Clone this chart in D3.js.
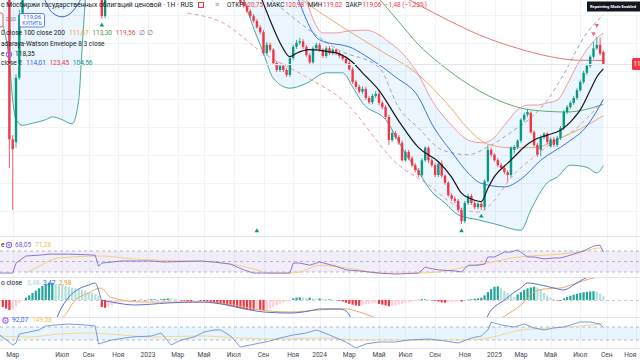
<!DOCTYPE html>
<html><head><meta charset="utf-8">
<script src="https://cdn.jsdelivr.net/npm/d3@7/dist/d3.min.js"></script>
<style>html,body{margin:0;padding:0;background:#fff;overflow:hidden}svg{display:block;font-family:Roboto,"Noto Sans",sans-serif}</style>
</head><body>
<svg id="chart" width="640" height="360"></svg>
<script>
// ---------- DATA ----------
const tickBars=[-41,-26,-18,-9,0,9,17,26,35,44,52,61,70,78,87,96,105,113,122,131,139,148];
const tickLabels=["Мар","Июл","Сен","Ноя","2023","Мар","Май","Июл","Сен","Ноя","2024","Мар","Май","Июл","Сен","Ноя","2025","Мар","Май","Июл","Сен","Ноя"];
const gridPrices=[98,102,106,110,114,118,122,126];

const candleBars=[-42,-41,-40,-39,-38,-14,-13].concat(d3.range(28,139));
const openP=[131.1,108.3,107.9,117.1,126.1,129.5,125.9,
129.1,127.9,127.3,126.6,125.9,125.2,124.3,123.6,120.6,121.8,
121.1,119.2,118.2,118.8,118.2,117.5,119.9,121.5,122.1,122.3,
121.5,120.3,119.3,121.3,121.8,121.1,120.2,121.3,120.6,121.1,
120.6,120.2,119.8,119.2,118.3,116.5,115.8,115.1,115.5,114.2,
113.6,114.5,114.8,113.5,112.9,111.5,108.2,109.2,108.6,107.8,
105.3,106.5,105.6,104.6,103.9,103.2,105.3,107.1,105.3,104.6,
103.2,104.8,103.1,102.1,100.3,99.8,99.5,98.2,96.6,99.2,
100.2,99.2,98.6,99.1,98.6,102.3,106.8,106.1,105.3,104.6,
104.2,103.6,103.2,106.8,107.2,108.1,111.1,111.8,112.1,109.3,
107.5,106.8,108.6,109.1,107.3,108.3,107.5,108.5,109.9,112.2,
112.9,113.5,114.2,115.3,116.5,117.8,118.8,120.1,121.3,121.8,
120.75];
const highP=[131.8,108.9,117.6,126.8,131.0,130.0,130.0,
129.3,128.2,127.6,126.9,126.2,125.5,124.6,123.9,122.2,122.1,
121.3,119.5,119.1,119.1,118.5,120.2,121.8,122.5,122.8,122.6,
121.8,120.6,121.6,122.1,122.1,121.3,121.6,121.6,121.3,121.3,
120.9,120.5,120.1,119.5,118.6,116.8,116.1,115.9,115.8,114.5,
114.8,115.2,115.1,113.8,113.2,111.8,109.6,109.5,108.9,108.1,
106.8,106.8,105.9,104.9,104.2,105.6,107.3,107.3,105.6,104.9,
105.1,105.3,103.3,102.3,100.6,100.1,99.8,98.5,99.5,100.5,
100.5,99.5,99.3,99.3,102.6,107.5,107.1,106.3,105.6,104.9,
104.5,103.9,107.3,107.5,108.3,111.3,112.1,112.6,112.3,109.6,
107.8,108.9,109.3,109.3,108.6,108.6,108.8,110.2,112.5,113.2,
113.8,114.5,115.6,116.8,118.1,119.1,120.3,122.2,122.9,122.8,
120.98];
const lowP=[104.2,98.2,107.1,116.8,125.8,125.5,125.6,
127.6,127.1,126.3,125.6,124.9,124.1,123.3,120.3,120.3,120.8,
118.9,117.9,117.9,117.9,117.2,117.2,119.6,121.2,121.8,121.2,
120.1,118.9,119.1,121.1,120.8,119.9,119.9,120.3,120.3,120.3,
119.9,119.5,118.9,118.1,116.2,115.5,114.8,114.8,113.9,113.3,
113.3,114.2,113.2,112.6,111.2,107.5,107.9,108.3,107.5,105.1,
105.1,105.3,104.3,103.6,102.9,102.9,105.1,104.9,104.3,102.9,
102.9,102.8,101.8,100.1,99.5,99.2,97.9,96.2,96.3,98.9,
98.9,98.3,98.3,98.2,98.2,102.1,105.8,105.1,104.3,103.9,
103.3,102.3,102.9,106.3,106.9,107.8,110.8,111.5,109.1,107.2,
105.8,105.9,108.3,107.6,107.1,107.2,107.2,108.2,109.6,111.9,
112.6,113.2,113.9,115.1,116.2,117.5,118.5,119.8,121.1,120.3,
119.02];
const closeP=[108.3,106.9,117.1,126.1,130.2,125.9,129.3,
127.9,127.3,126.6,125.9,125.2,124.3,123.6,120.6,121.8,121.1,
119.2,118.2,118.8,118.2,117.5,119.9,121.5,122.1,122.3,121.5,
120.3,119.3,121.3,121.8,121.1,120.2,121.3,120.6,121.1,120.6,
120.2,119.8,119.2,118.3,116.5,115.8,115.1,115.5,114.2,113.6,
114.5,114.8,113.5,112.9,111.5,108.2,109.2,108.6,107.8,105.3,
106.5,105.6,104.6,103.9,103.2,105.3,107.1,105.3,104.6,103.2,
104.8,103.1,102.1,100.3,99.8,99.5,98.2,96.6,99.2,100.2,
99.2,98.6,99.1,98.6,102.3,106.8,106.1,105.3,104.6,104.2,
103.6,103.2,107.1,107.2,108.1,111.1,111.8,112.2,109.3,107.5,
106.1,108.6,109.1,107.9,108.3,107.5,108.5,109.9,112.2,112.9,
113.5,114.2,115.3,116.5,117.8,118.8,120.1,121.3,121.8,120.54,
119.06];

// Bollinger bands (bar, price)
const bbLowerA=[[-44,124.6],[-42,119.3],[-41,113.9],[-40,111.1],[-38,110.3],[-35,110.6],[-31,111.1],[-29,111.5],[-26,111.1],[-23,110.5],[-21,113.9],[-20,121.1],[-19,128.2],[-18,134]];
const bbLowerB=[[28,130],[31,125.5],[35,120.6],[38,117],[43,115.6],[48,116.3],[54,117.8],[59,117.8],[62,115.8],[65,113.5],[72,111.1],[78,106.3],[82,103.6],[86,100.8],[90,99.2],[94,97.5],[100,96.8],[106,96.1],[113,95.3],[116,98.2],[121,102.1],[124,102.9],[128,104.6],[133,104.3],[136,103.5],[138,104.56]];
const bbUpper=[[47,130],[50,125.5],[53,123.5],[57,123.5],[61,123.8],[66,123.9],[69,123.5],[73,122.2],[76,121.1],[82,117.5],[86,113.9],[92,110.3],[97,108.2],[101,107.8],[104,108.2],[108,110.3],[112,112.5],[115,113.2],[118,113.2],[121,113.5],[124,113.9],[127,116.1],[130,118.9],[133,121.1],[136,122.8],[138,123.45]];
const bbBasisA=[[-32,129],[-29,126.4],[-26,125.8],[-23,126.5],[-20,128.6]];
const bbBasisB=[[45,129],[52,122.5],[62,121.3],[67,119.9],[75,117.2],[82,114.3],[86,110.5],[92,106.5],[97,103.5],[101,102],[108,101.5],[113,102.6],[119,105.3],[127,107.8],[133,110.2],[138,114.01]];
// Moving averages
const maFast=[[46,128.4],[58,124.6],[70,121.1],[82,117.5],[91,113.2],[97,109.8],[103,107.6],[110,107.1],[117,107.1],[125,108.5],[131,109.8],[138,111.67]];
const maMid=[[70,128.4],[76,125.1],[82,121.8],[88,119.3],[95,116.8],[106,113.9],[116,112.5],[127,112.2],[138,113.30]];
const maSlow=[[74,129.5],[82,127.5],[91,125.3],[102,122.9],[112,121.3],[122,120.1],[130,119.6],[138,119.56]];
const fastLine=[[34,128.9],[37,125.3],[40,122.1],[43,120.1],[45,120.6],[49,121.1],[55,120.8],[58,120.5],[62,119.3],[65,117.8],[70,115.3],[76,110.9],[82,107.1],[88,105.1],[92,102.9],[95,100.6],[99,99.6],[101,99.4],[103,101.3],[105,103.0],[109,104.9],[111,105.8],[114,107.2],[117,108.2],[121,108.9],[125,109.6],[129,111.3],[131,112.5],[134,115.3],[136,117.2],[138,118.35]];
// Nadaraya-Watson envelope
const nwUpper=[[37,128.4],[45,125.3],[58,121.0],[70,118.6],[76,112.8],[82,109.9],[89,106.8],[97,106.1],[103,107.2],[110,109.3],[117,111.8],[121,113.9],[125,116.8],[133,123.5],[138,126.1]];
const nwLower=[[12,126.3],[22,125.1],[35,120.6],[48,117.2],[59,113.9],[76,104.6],[85,101.8],[93,98.9],[100,97.9],[105,99.6],[110,102.8],[117,105.8],[124,108.2],[127,108.9],[134,111.8],[138,113.9]];
const upMarkBars=[-14,33,95,101], upMarkPrices=[124.6,95.2,95.2,97.3];
const dnMarkBars=[135,136], dnMarkPrices=[123.4,124.6];

// RSI
const rsiLine=[[-45,28],[-41,28],[-40,47],[-37,60.5],[-33,62],[-30,64],[-24,64],[-19,63],[-16,62],[-15,41],[-14,47],[-8,51],[1,51],[5,49],[16,51],[20,49],[25,45],[29,34],[32,28],[43,28],[44,47],[46,47],[49,43],[52,49],[57,41],[60,34],[64,32],[70,28],[75,26],[82,28],[84,39.5],[85,37.6],[88,34],[93,32],[95,30],[97,43],[100,43],[102,45],[103,58.6],[105,58.6],[108,68],[110,68],[112,72],[115,58.6],[117,58.6],[120,55],[123,56.7],[125,56.7],[128,62],[132,70],[135,79.5],[137,81],[138,68.05]];
const rsiSignal=[[-37,28],[-33,41],[-27,56.7],[-14,60.5],[-5,55],[1,53],[20,49],[31,37.6],[37,28],[43,28],[46,30],[52,43],[58,39.5],[64,34],[70,28],[82,28],[92,34],[97,41],[103,47],[110,56.7],[116,60.5],[125,64],[132,70],[137,75.7],[138,71.28]];
// MACD
const macdHistStart=-44;
const macdHist=[-0.9,-1.1,-1.3,-1.2,-0.8,-0.4,-0.1,
0.3,0.6,0.9,1.2,1.5,1.8,2.0,2.2,2.2,
2.1,2.0,1.9,1.8,1.7,1.6,1.5,1.4,1.3,1.2,1.0,0.9,0.7,0.5,
-0.9,-1.0,-0.9,-0.7,-0.5,-0.4,-0.3,-0.2,-0.15,-0.1,-0.1,-0.05,
0.05,-0.05,0.05,0.1,0.1,0.05,
0.1,0.15,0.2,0.15,0.1,0.05,
-0.05,-0.1,-0.15,-0.2,-0.15,-0.1,
-0.1,-0.15,-0.2,-0.25,
-0.3,-0.4,-0.5,-0.6,
-0.7,-0.8,-0.9,-1.0,-1.1,
-1.2,-1.25,-1.3,-1.3,-1.25,-1.3,-1.35,-1.3,
-1.1,-0.9,-0.7,-0.5,-0.35,-0.2,-0.1,
0.2,0.3,0.35,0.3,0.25,0.3,0.2,
0.15,0.2,0.15,0.1,0.1,0.05,0.02,
-0.1,-0.2,-0.35,-0.5,-0.6,-0.7,-0.75,
-0.6,-0.5,-0.45,-0.4,-0.35,
-0.5,-0.6,-0.7,-0.8,-0.75,-0.7,
-0.6,-0.5,-0.4,-0.3,-0.2,-0.1,
0.05,0.1,0.1,0.05,-0.05,
-0.1,-0.2,-0.3,-0.35,-0.3,-0.25,-0.2,-0.15,-0.2,-0.1,
0.05,0.1,0.15,0.2,
0.3,0.6,1.0,1.4,1.7,1.75,
1.5,1.2,0.9,0.6,0.4,
0.7,1.0,1.3,1.5,1.6,1.7,1.6,
1.3,0.9,0.6,0.3,0.1,
-0.05,-0.1,
0.2,0.4,0.55,0.7,0.8,0.9,1.0,1.05,1.1,1.12,1.05,
0.8,0.48];
const macdLine=[[-40,-5],[-32,-5.5],[-29,-3.85],[-27,-1.67],[-24,0.38],[-21,1.41],[-18,1.92],[-16,2.18],[-15,1.28],[-14,0],[-11,-0.26],[-4,-0.64],[6,-0.38],[16,-0.26],[24,-0.64],[31,-1.28],[35,-1.54],[43,-1.67],[49,-1.4],[52,-1.15],[58,-1.15],[60,-1.4],[62,-2.6],[66,-4],[100,-4],[104,-1.28],[108,0],[111,1.0],[113,1.54],[115,2.18],[119,1.92],[123,1.54],[126,1.28],[129,1.92],[132,2.7],[135,3.2],[138,3.47]];
const macdSignal=[[-40,-4],[-26,-2.3],[-22,0],[-18,0.9],[-14.5,1.54],[-13,1.15],[-11.5,0.38],[-2,-0.26],[16,-0.26],[26,-0.64],[34,-1.28],[43,-1.54],[52,-1.28],[60,-1.15],[64,-1.54],[69,-2.3],[75,-3.5],[100,-3.5],[106,-2.56],[110,-1.54],[113,-0.64],[117,1.03],[120,1.41],[125,1.54],[129,2.05],[135,2.82],[138,2.98]];
// CCI-like pane
const cciLine=[[-45,-23],[-42,-131],[-41,-177],[-40,-146],[-39,-8],[-36,23],[-33,54],[-31,115],[-28,131],[-24,146],[-19,131],[-16,115],[-15,-161],[-11,-100],[-5,-54],[1,-38],[4,8],[7,-177],[10,-100],[14,-54],[17,23],[20,54],[22,54],[25,-38],[28,-208],[31,-177],[34,-146],[37,-115],[40,-69],[44,-23],[48,8],[51,54],[52,38],[55,-23],[60,-131],[63,-223],[66,-161],[70,-131],[75,-131],[79,-100],[85,-85],[90,-115],[94,-146],[98,-69],[101,-38],[103,54],[104,177],[107,131],[111,100],[114,146],[117,85],[120,54],[123,85],[126,100],[131,177],[134,177],[137,146],[138,92.07]];
const cciSignal=[[-45,-38],[-36,-54],[-27,-8],[-18,8],[-8,-23],[1,-54],[16,-38],[28,-69],[40,-85],[52,-69],[64,-100],[76,-100],[91,-100],[101,-85],[107,-23],[113,54],[122,85],[131,115],[138,149.58]];

// ---------- DRAW ----------
const W=640,H=360;
const svg=d3.select("#chart");
const defs=svg.append("defs");
const panes={main:[0,236],rsi:[237,277],macd:[278,317],cci:[318,348]};
Object.entries(panes).forEach(([k,[a,b]])=>defs.append("clipPath").attr("id","clip-"+k).append("rect").attr("x",0).attr("y",a).attr("width",W).attr("height",b-a));

const x=d3.scaleLinear().domain([0,105]).range([148,494.5]);
const y=d3.scaleLinear().domain([94.6,128.2]).range([235.2,0]);
const rsiY=d3.scaleLinear().domain([30,70]).range([272,251]);
const macdY=d3.scaleLinear().domain([0,2.18]).range([300,283]);
const cciY=d3.scaleLinear().domain([-100,100]).range([340,327]);

// grid
const grid=svg.append("g");
grid.selectAll(".vg").data(tickBars).join("line").attr("x1",d=>Math.round(x(d))+0.5).attr("x2",d=>Math.round(x(d))+0.5).attr("y1",0).attr("y2",348).attr("stroke","#f0f3fa");
grid.selectAll(".hg").data(gridPrices).join("line").attr("x1",0).attr("x2",W).attr("y1",d=>Math.round(y(d))+0.5).attr("y2",d=>Math.round(y(d))+0.5).attr("stroke","#f0f3fa");
[236.5,277.5,317.5,348.5].forEach(v=>svg.append("line").attr("x1",0).attr("x2",W).attr("y1",v).attr("y2",v).attr("stroke","#e0e3eb"));

// main pane
const gm=svg.append("g").attr("clip-path","url(#clip-main)");
const lineP=(data,curve)=>d3.line().x(d=>x(d[0])).y(d=>y(d[1])).curve(curve||d3.curveMonotoneX)(data);
const upperClipPath="M"+x(-60)+",-5 L"+x(bbUpper[0][0])+",-5 L"+lineP(bbUpper).slice(1)+" L"+x(bbUpper[bbUpper.length-1][0])+","+(H)+" L"+x(-60)+","+H+" Z";
defs.append("clipPath").attr("id","clip-bbu").append("path").attr("d",upperClipPath);
const fillG=gm.append("g").attr("clip-path","url(#clip-bbu)");
const areaGen=d3.area().x(d=>x(d[0])).y0(d=>y(d[1])).y1(-5).curve(d3.curveMonotoneX);
[bbLowerA,bbLowerB].forEach(s=>fillG.append("path").attr("d",areaGen(s)).attr("fill","rgba(33,150,243,0.09)"));

const lastClose=closeP[closeP.length-1];
svg.append("line").attr("x1",0).attr("x2",W).attr("y1",Math.round(y(lastClose))+0.5).attr("y2",Math.round(y(lastClose))+0.5).attr("stroke","#e3e5ea");

function drawLine(g,data,color,w,dash,curve){g.append("path").attr("d",lineP(data,curve)).attr("fill","none").attr("stroke",color).attr("stroke-width",w||1).attr("stroke-dasharray",dash||null);}
drawLine(gm,nwUpper,"#9aa7b8",1,"4,3");
drawLine(gm,nwLower,"#e89aa4",1,"4,3");
drawLine(gm,maSlow,"#e57373",1);
drawLine(gm,maMid,"#66a86a",1);
drawLine(gm,maFast,"#f0a868",1);
drawLine(gm,bbUpper,"#f08c96",0.9);
drawLine(gm,bbLowerA,"#4aa89a",1);
drawLine(gm,bbLowerB,"#4aa89a",1);

// candles
const cw=2.4;
const candles=candleBars.map((b,i)=>({b,o:openP[i],h:highP[i],l:lowP[i],c:closeP[i]}));
const cg=gm.append("g");
cg.selectAll(".wick").data(candles).join("line").attr("x1",d=>x(d.b)).attr("x2",d=>x(d.b)).attr("y1",d=>y(d.h)).attr("y2",d=>y(d.l)).attr("stroke",d=>d.c>=d.o?"#089981":"#f23645").attr("stroke-width",0.8);
cg.selectAll(".body").data(candles).join("rect").attr("x",d=>x(d.b)-cw/2).attr("width",cw).attr("y",d=>y(Math.max(d.o,d.c))).attr("height",d=>Math.max(0.8,Math.abs(y(d.o)-y(d.c)))).attr("fill",d=>d.c>=d.o?"#089981":"#f23645");

drawLine(gm,bbBasisA,"#3f5fc4",1);
drawLine(gm,bbBasisB,"#3f6fe0",1);
drawLine(gm,fastLine,"#131722",1.2);

const tri=d3.symbol().type(d3.symbolTriangle).size(9);
gm.selectAll(".um").data(upMarkBars).join("path").attr("d",tri).attr("transform",(d,i)=>`translate(${x(d)},${y(upMarkPrices[i])})`).attr("fill","#089981");
gm.selectAll(".dm").data(dnMarkBars).join("path").attr("d",tri).attr("transform",(d,i)=>`translate(${x(d)},${y(dnMarkPrices[i])}) rotate(180)`).attr("fill","#f06292");

// RSI pane
const gr=svg.append("g").attr("clip-path","url(#clip-rsi)");
gr.append("rect").attr("x",0).attr("width",W).attr("y",rsiY(70)).attr("height",rsiY(30)-rsiY(70)).attr("fill","rgba(126,87,194,0.1)");
[70,50,30].forEach(v=>gr.append("line").attr("x1",0).attr("x2",W).attr("y1",rsiY(v)).attr("y2",rsiY(v)).attr("stroke","#9e9ab5").attr("stroke-width",0.7).attr("stroke-dasharray","3,3"));
const rl=(data,sc,curve)=>d3.line().x(d=>x(d[0])).y(d=>sc(d[1])).curve(curve||d3.curveLinear)(data);
gr.append("path").attr("d",rl(rsiSignal,rsiY,d3.curveMonotoneX)).attr("fill","none").attr("stroke","#f5cf7a").attr("stroke-width",1);
gr.append("path").attr("d",rl(rsiLine,rsiY)).attr("fill","none").attr("stroke","#7e6ad0").attr("stroke-width",0.9);

// MACD pane
const gd=svg.append("g").attr("clip-path","url(#clip-macd)");
gd.append("line").attr("x1",0).attr("x2",W).attr("y1",macdY(0)+0.5).attr("y2",macdY(0)+0.5).attr("stroke","#b2b5be").attr("stroke-width",0.7).attr("stroke-dasharray","3,3");
const hist=macdHist.map((v,i)=>({b:macdHistStart+i,v,p:i>0?macdHist[i-1]:v}));
gd.selectAll(".hb").data(hist).join("rect").attr("x",d=>x(d.b)-1.1).attr("width",2.2)
  .attr("y",d=>Math.min(macdY(d.v),macdY(0))).attr("height",d=>Math.max(0.5,Math.abs(macdY(d.v)-macdY(0))))
  .attr("fill",d=>d.v>=0?(d.v>=d.p?"#26a69a":"#b2dfdb"):(d.v<=d.p?"#f23645":"#ffcdd2"));
gd.append("path").attr("d",rl(macdSignal,macdY,d3.curveMonotoneX)).attr("fill","none").attr("stroke","#f0a868").attr("stroke-width",1);
gd.append("path").attr("d",rl(macdLine,macdY,d3.curveMonotoneX)).attr("fill","none").attr("stroke","#5a72c8").attr("stroke-width",1);

// CCI pane
const gc=svg.append("g").attr("clip-path","url(#clip-cci)");
gc.append("rect").attr("x",0).attr("width",W).attr("y",cciY(100)).attr("height",cciY(-100)-cciY(100)).attr("fill","rgba(33,150,243,0.1)");
[100,-100].forEach(v=>gc.append("line").attr("x1",0).attr("x2",W).attr("y1",cciY(v)).attr("y2",cciY(v)).attr("stroke","#9aa4b5").attr("stroke-width",0.7).attr("stroke-dasharray","3,3"));
gc.append("path").attr("d",rl(cciSignal,cciY,d3.curveMonotoneX)).attr("fill","none").attr("stroke","#f5d98a").attr("stroke-width",1);
gc.append("path").attr("d",rl(cciLine,cciY)).attr("fill","none").attr("stroke","#6a8fd8").attr("stroke-width",0.9);

// x axis labels
svg.selectAll(".xl").data(tickBars).join("text")
  .attr("x",d=>Math.min(x(d),639)).attr("y",355)
  .attr("text-anchor",d=>x(d)+6>640?"end":"middle").attr("dominant-baseline","middle")
  .attr("font-size",6.6).attr("fill","#434651").text((d,i)=>tickLabels[i]);

// ---------- LEGENDS / TEXT ----------
function T(x0,y0,txt,col,fs,anchor,fw){return svg.append("text").attr("x",x0).attr("y",y0).attr("fill",col).attr("font-size",fs||6.6).attr("text-anchor",anchor||"start").attr("font-weight",fw||400).attr("dominant-baseline","middle").text(txt);}
const dark="#131722";
const tt=T(1,5.5,"с Мосбиржи государственных облигаций ценовой · 1Н · RUS",dark,6.7);
tt.attr("textLength",192).attr("lengthAdjust","spacingAndGlyphs");
svg.append("rect").attr("x",198.5).attr("y",2.5).attr("width",5).attr("height",5).attr("fill","none").attr("stroke","#f23645");
T(215,5.5,"≡","#787b86",7);
const last=candles[candles.length-1];
const fmt=v=>d3.format(".2f")(v).replace(".",",").replace("-","−");
const prevClose=closeP[closeP.length-2];
const chg=last.c-prevClose;
let ox=227;
[["ОТКР",fmt(last.o)],["МАКС",fmt(last.h)],["МИН",fmt(last.l)],["ЗАКР",fmt(last.c)]].forEach(([k,v])=>{
  const t1=T(ox,5.5,k,dark,6.4); const w1=t1.node().getComputedTextLength();
  const t2=T(ox+w1+0.5,5.5,v,"#f23645",6.4); ox+=w1+t2.node().getComputedTextLength()+4;
});
T(ox,5.5,fmt(chg)+" ("+fmt(chg/prevClose*100)+"%)","#f23645",6.4);

// trade buttons
svg.append("rect").attr("x",-22).attr("y",13).attr("width",25).attr("height",14).attr("rx",2).attr("fill","#fff").attr("stroke","#f23645").attr("stroke-width",0.8);
T(11,19.5,"0,00","#787b86",5.2,"middle");
svg.append("rect").attr("x",19.5).attr("y",13.5).attr("width",25).attr("height",13.5).attr("rx",2).attr("fill","#fff").attr("stroke","#2962ff").attr("stroke-width",0.8);
T(32,17.3,fmt(last.c),"#2962ff",6,"middle");
T(32,23.5,"КУПИТЬ","#2962ff",5,"middle");

// MA legend
let lx=0;
const t0=T(1,33.5,"0 close 100 close 200",dark,6.6); lx=1+t0.node().getComputedTextLength()+4;
[[maFast,"#f0a040"],[maMid,"#4c9a50"],[maSlow,"#e05050"]].forEach(([s,c])=>{const t=T(lx,33.5,fmt(s[s.length-1][1]),c,6.6); lx+=t.node().getComputedTextLength()+3.5;});
T(lx,33.5,"∅ ∅","#787b86",6.6);
T(1,44.5,"adaraya-Watson Envelope 8 3 close",dark,6.6);
T(1,54.5,"e",dark,6.6);
function icon(cx,cy){svg.append("circle").attr("cx",cx).attr("cy",cy).attr("r",2.6).attr("fill","none").attr("stroke","#9c6ade").attr("stroke-width",1.1);svg.append("circle").attr("cx",cx).attr("cy",cy).attr("r",0.9).attr("fill","#9c6ade");}
icon(9,54.5);
T(15,54.5,fmt(fastLine[fastLine.length-1][1]),dark,6.6);
let bx=0;
const tb=T(1,63.5,"close 2",dark,6.6); bx=1+tb.node().getComputedTextLength()+4;
[[bbBasisB,"#2962ff"],[bbUpper,"#f23645"],[bbLowerB,"#089981"]].forEach(([s,c])=>{const t=T(bx,63.5,fmt(s[s.length-1][1]),c,6.6); bx+=t.node().getComputedTextLength()+3.5;});

// sub-pane legends
T(1,245,"e",dark,6.6); icon(9,245);
const r1=T(15,245,fmt(rsiLine[rsiLine.length-1][1]),"#7e57c2",6.6);
T(15+r1.node().getComputedTextLength()+4,245,fmt(rsiSignal[rsiSignal.length-1][1]),"#f2c14e",6.6);
const m0=T(1,283.5,"o close",dark,6.6); let mx=1+m0.node().getComputedTextLength()+5;
[[macdHist[macdHist.length-1],"#a6d8d2"],[macdLine[macdLine.length-1][1],"#2962ff"],[macdSignal[macdSignal.length-1][1],"#f09030"]].forEach(([v,c])=>{const t=T(mx,283.5,fmt(v),c,6.6); mx+=t.node().getComputedTextLength()+3.5;});
icon(5.5,320.5);
const c1=T(12,320.5,fmt(cciLine[cciLine.length-1][1]),"#2962ff",6.6);
T(12+c1.node().getComputedTextLength()+4,320.5,fmt(cciSignal[cciSignal.length-1][1]),"#f2c14e",6.6);

// repainting badge & price label
svg.append("rect").attr("x",587).attr("y",1.5).attr("width",53).attr("height",10).attr("fill","#131722");
T(590,6.7,"Repainting Mode Enabled","#ffffff",4.3,"start",700).attr("textLength",46).attr("lengthAdjust","spacingAndGlyphs");
svg.append("rect").attr("x",632).attr("y",Math.round(y(last.c))-6).attr("width",14).attr("height",12).attr("rx",1.5).attr("fill","#f23645");
T(633.5,Math.round(y(last.c)),"11","#ffffff",6.4);
</script>
</body></html>
